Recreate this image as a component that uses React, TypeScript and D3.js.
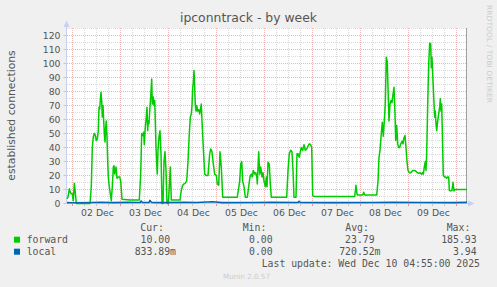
import React from "react";
import * as d3 from "d3";

// hours since 2025-12-02 00:00, value
const forward: [number, number][] = [
  [-2.75, 3.4], [-2.25, 4.5], [-1.6, 10.5], [-1.1, 8], [-0.6, 7], [-0.1, 7], [0.4, 2], [0.9, 14.5], [1.4, 8], [1.9, 0],
  [8.75, 0], [9.4, 12], [9.9, 40], [10.4, 47.6], [10.9, 50], [11.4, 48.6], [11.9, 45], [12.4, 46], [12.9, 52],
  [13.25, 68.8], [13.6, 67.6], [13.9, 73.6], [14.25, 79.5], [14.6, 73.6], [14.9, 61.7], [15.25, 70], [15.6, 59],
  [15.9, 50], [16.25, 44], [16.6, 54.5], [16.9, 59], [17.25, 47.6], [17.6, 30], [17.9, 19], [18.4, 12], [18.9, 7],
  [19.4, 2], [19.9, 12], [20.4, 26], [20.75, 27], [21.1, 21], [21.4, 23.6], [21.75, 26], [22.25, 18], [22.9, 19],
  [23.6, 19], [24.1, 16], [24.75, 3], [28.75, 2.5], [33.4, 2.5], [34.1, 21], [34.6, 50], [35.1, 48.6], [35.6, 51],
  [35.9, 42], [36.4, 54.5], [36.9, 61.7], [37.25, 68.8], [37.6, 52], [37.9, 59], [38.25, 57], [38.6, 66], [39.1, 76],
  [39.6, 89], [39.9, 71], [40.4, 76], [40.75, 70], [41.1, 73.6], [41.4, 59], [41.75, 40], [42.1, 28], [42.4, 21],
  [42.75, 38], [43.25, 47.6], [43.75, 52], [44.25, 35.6], [44.75, 0], [45.25, 0], [45.75, 30], [46.25, 37],
  [46.75, 23.6], [47.25, 0], [47.9, 0], [48.4, 12], [48.9, 26], [49.4, 2.5], [53.75, 2.5], [54.4, 9.3], [55.1, 13],
  [55.75, 14], [56.4, 14.5], [57.1, 16], [57.75, 30], [58.4, 50], [58.9, 61.7], [59.4, 64], [59.75, 70], [60.1, 83],
  [60.4, 86], [60.75, 95], [61.1, 83], [61.4, 70], [61.75, 66], [62.1, 70], [62.6, 66], [63.1, 67], [63.6, 64],
  [64.4, 71], [64.75, 59], [65.4, 40], [66.1, 21], [66.9, 20], [67.75, 20], [68.6, 35.5], [69.1, 39], [69.75, 37],
  [70.25, 30], [71.1, 21], [71.9, 20], [72.4, 14], [73.1, 13], [73.75, 37], [74.4, 26], [75.1, 4.5], [82.4, 4.5],
  [83.6, 16], [84.1, 28], [84.6, 30], [85.1, 16], [85.75, 12], [86.4, 4.5], [87.4, 4.5], [88.1, 12], [88.75, 19],
  [89.4, 21], [89.9, 19], [90.4, 23.6], [91.1, 21], [91.6, 22], [92.1, 20], [92.4, 14], [93.1, 37], [93.6, 21],
  [94.1, 26], [94.75, 19], [95.25, 22], [95.75, 16], [96.4, 12], [96.9, 19], [97.25, 12], [97.75, 29.5], [98.4, 28],
  [98.9, 14], [99.4, 4.5], [107.1, 4.5], [107.75, 23.6], [108.4, 35.6], [109.1, 38], [109.75, 37], [110.25, 23.6],
  [110.75, 4.5], [111.75, 4.5], [112.25, 35.6], [112.75, 35.6], [113.4, 33], [113.9, 37], [114.4, 40], [115.1, 38],
  [115.75, 42], [116.4, 38], [117.1, 39], [117.75, 41], [118.4, 42.6], [119.1, 42], [119.6, 40], [120.1, 5.7],
  [120.75, 5], [141.1, 5], [141.75, 13], [142.25, 6.7], [142.75, 6], [145.1, 6], [145.6, 8], [146.1, 6], [152.1, 6],
  [152.75, 16], [153.25, 33], [153.75, 38], [154.4, 50], [154.9, 58], [155.4, 48], [155.9, 59], [156.4, 71],
  [156.9, 104.5], [157.4, 101], [157.75, 83], [158.25, 59], [158.75, 71], [159.25, 73.6], [159.75, 72], [160.25, 78],
  [160.75, 83], [161.25, 64], [161.6, 45], [162.1, 55.7], [162.6, 42.6], [163.1, 40], [163.6, 40], [164.1, 42.6],
  [164.9, 44.6], [165.25, 42.6], [165.75, 47], [166.25, 48.6], [166.75, 40], [167.25, 30], [167.75, 23.6],
  [168.4, 22], [169.1, 22], [170.1, 23.6], [171.1, 23.6], [171.75, 23], [172.4, 22], [173.1, 21.5], [173.75, 22],
  [174.4, 21], [174.9, 22], [175.4, 21], [175.9, 26], [176.4, 30], [176.75, 23.6], [177.1, 35.6], [177.6, 71],
  [178.1, 99.8], [178.6, 114.5], [179.1, 114], [179.4, 97], [179.75, 104.5], [180.1, 92.6], [180.6, 76],
  [181.1, 61.7], [181.4, 66], [181.75, 57], [182.1, 52], [182.6, 59], [183.1, 64], [183.6, 69], [183.9, 74.8],
  [184.25, 66], [184.6, 71], [184.9, 52], [185.4, 20], [186.1, 19], [186.6, 19], [187.1, 18], [187.6, 19],
  [188.1, 19], [188.4, 9.3], [189.1, 9], [189.75, 9.3], [190.25, 15.2], [190.75, 9], [191.25, 10], [197.25, 10],
];

const local: [number, number][] = [
  [-2.75, 0.6], [0, 0.5], [10, 0.7], [14, 0.9], [20, 0.6], [28, 0.8], [33.8, 0.7], [34.3, 1.8], [35, 0.7],
  [38.3, 0.8], [38.75, 2.2], [39.5, 0.8], [45, 0.6], [56, 0.9], [62, 0.7], [70, 1.2], [75, 0.6], [90, 0.7],
  [100, 0.8], [112.8, 0.7], [113.25, 1.6], [114, 0.7], [130, 0.6], [150, 0.7], [160, 0.9], [175, 0.7],
  [190, 0.6], [197.25, 0.8],
];

const yTicks = [0, 10, 20, 30, 40, 50, 60, 70, 80, 90, 100, 110, 120];
const dayLabels = ["02 Dec", "03 Dec", "04 Dec", "05 Dec", "06 Dec", "07 Dec", "08 Dec", "09 Dec"];

const seriesNames = ["forward", "local"];
const seriesColors = ["#00CC00", "#0066B3"];
const curValues = ["10.00", "833.89m"];
const minValues = ["0.00", "0.00"];
const avgValues = ["23.79", "720.52m"];
const maxValues = ["185.93", "3.94"];

const W = 497;
const H = 287;
const PL = 67, PR = 467, PT = 28, PB = 204;

export default function App() {
  const x = d3.scaleLinear().domain([-2.75, 197.25]).range([PL, PR]);
  const y = d3.scaleLinear().domain([0, 125]).range([203.5, 28.5]);
  const line = d3.line<[number, number]>().x((d) => x(d[0])).y((d) => y(d[1]));

  const gridHours = d3.range(0, 200, 6).filter((h) => x(h) >= PL && x(h) <= PR);
  const minorH = d3.range(5, 130, 10);
  const axisCol = "#C8D0F4";
  const txt = "#555555";
  const mono = "'DejaVu Sans Mono', monospace";
  const sans = "'DejaVu Sans', sans-serif";
  const minorCol = "#DADADA";
  const majorCol = "#F0B4B4";

  return (
    <svg width={W} height={H} style={{ position: "absolute", left: 0, top: 0, background: "#F0F0F0" }}>
      <rect x={0} y={0} width={W} height={H} fill="#F0F0F0" />
      <rect x={PL} y={PT} width={PR - PL} height={PB - PT} fill="#FFFFFF" />
      {minorH.map((v) => (
        <line key={"mh" + v} x1={PL} x2={PR} y1={y(v)} y2={y(v)} stroke={minorCol} strokeWidth={1} strokeDasharray="1,1" />
      ))}
      {gridHours.filter((h) => h % 24 !== 0).map((h) => (
        <line key={"mv" + h} x1={x(h)} x2={x(h)} y1={PT} y2={203.5} stroke={minorCol} strokeWidth={1} strokeDasharray="1,1" />
      ))}
      {yTicks.filter((v) => v > 0).map((v) => (
        <line key={"Mh" + v} x1={PL} x2={PR} y1={y(v)} y2={y(v)} stroke={majorCol} strokeWidth={1} strokeDasharray="1,1" />
      ))}
      {gridHours.filter((h) => h % 24 === 0).map((h) => (
        <line key={"Mv" + h} x1={x(h)} x2={x(h)} y1={PT} y2={203.5} stroke={majorCol} strokeWidth={1} strokeDasharray="1,1" />
      ))}
      {gridHours.map((h) => (
        <line key={"xt" + h} x1={x(h)} x2={x(h)} y1={203.5} y2={206} stroke={h % 24 === 0 ? "#E89090" : "#C8C8C8"} strokeWidth={1} />
      ))}
      {yTicks.map((v) => (
        <line key={"yt" + v} x1={63.5} x2={66.5} y1={y(v)} y2={y(v)} stroke="#C8C8C8" strokeWidth={1} />
      ))}
      <line x1={466.5} x2={466.5} y1={PT} y2={203.5} stroke="#A0A0A0" strokeWidth={1} />
      <line x1={66.5} x2={66.5} y1={203.5} y2={24} stroke={axisCol} strokeWidth={1} />
      <path d="M63.5,27 L66.5,20.5 L69.5,27 Z" fill={axisCol} />
      <line x1={66.5} x2={470} y1={203.5} y2={203.5} stroke={axisCol} strokeWidth={1} />
      <path d="M468,200.5 L474.5,203.5 L468,206.5 Z" fill={axisCol} />
      <path d={line(forward) ?? ""} fill="none" stroke={seriesColors[0]} strokeWidth={1.5} strokeLinejoin="round" />
      <path d={line(local) ?? ""} fill="none" stroke={seriesColors[1]} strokeWidth={1.6} strokeLinejoin="round" />
      {yTicks.map((v) => (
        <text key={"yl" + v} x={60.5} y={y(v) + 3.2} textAnchor="end" fontFamily={sans} fontSize={9.3} fill={txt}>{v}</text>
      ))}
      {dayLabels.map((l, i) => (
        <text key={l} x={x(i * 24 + 12) + 1} y={216} textAnchor="middle" fontFamily={sans} fontSize={9.3} fill={txt}>{l}</text>
      ))}
      <text x={248.5} y={22} textAnchor="middle" fontFamily={sans} fontSize={12.4} fill={txt}>ipconntrack - by week</text>
      <text transform="translate(15,115.5) rotate(-90)" textAnchor="middle" fontFamily={sans} fontSize={10.8} fill={txt}>established connections</text>
      <text transform="translate(487,5) rotate(90)" fontFamily={sans} fontSize={7} fill="#CCCCCC" textLength={98} lengthAdjust="spacingAndGlyphs">RRDTOOL / TOBI OETIKER</text>
      <g fontFamily={mono} fontSize={9.8} fill={txt}>
        <text x={140.3} y={230.5}>Cur:</text>
        <text x={242.7} y={230.5}>Min:</text>
        <text x={345.3} y={230.5}>Avg:</text>
        <text x={446.7} y={230.5}>Max:</text>
        {seriesNames.map((n, i) => {
          const by = 243 + i * 12;
          return (
            <g key={n}>
              <rect x={14} y={by - 6.3} width={6} height={6} fill={seriesColors[i]} />
              <text x={26.7} y={by}>{n}</text>
              <text x={176} y={by} textAnchor="end">{curValues[i] + (curValues[i].endsWith("m") ? "" : "\u00a0")}</text>
              <text x={278.5} y={by} textAnchor="end">{minValues[i] + (minValues[i].endsWith("m") ? "" : "\u00a0")}</text>
              <text x={380.5} y={by} textAnchor="end">{avgValues[i] + (avgValues[i].endsWith("m") ? "" : "\u00a0")}</text>
              <text x={482.5} y={by} textAnchor="end">{maxValues[i] + (maxValues[i].endsWith("m") ? "" : "\u00a0")}</text>
            </g>
          );
        })}
        <text x={261.7} y={266.7}>Last update: Wed Dec 10 04:55:00 2025</text>
      </g>
      <text x={223} y={279} fontFamily={sans} fontSize={7.2} fill="#CCCCCC">Munin 2.0.57</text>
    </svg>
  );
}
